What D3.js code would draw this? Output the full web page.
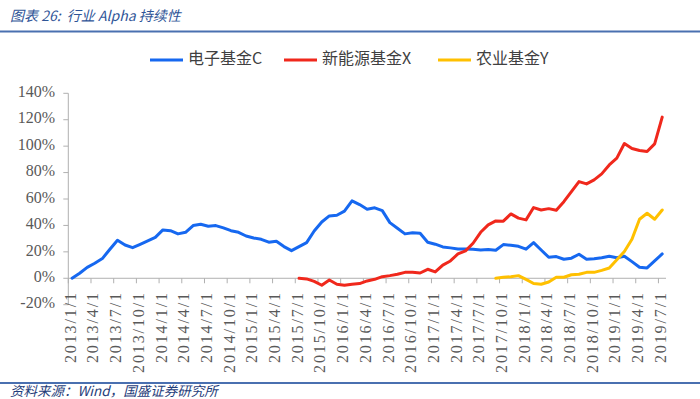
<!DOCTYPE html>
<html>
<head>
<meta charset="utf-8">
<script src="https://cdn.jsdelivr.net/npm/d3@7"></script>
<style>
  html, body { margin: 0; padding: 0; background: #fff; }
  svg { display: block; }
</style>
</head>
<body>
<div id="chart"></div>
<script>
// months 2013/1 .. 2019/7 (monthly points)
const startMonth = new Date(2013, 0, 1);
const endMonth = new Date(2019, 6, 1);

// 电子基金C, from 2013/1
const blueValues = [0, 3.8, 8.3, 11.4, 14.9, 22, 28.8, 25.2, 23.2, 25.7, 28.3, 31,
  36.6, 36, 33.6, 34.8, 39.9, 40.9, 39.4, 39.9, 38.1, 36, 34.8, 32,
  30.5, 29.5, 27.3, 28, 24, 20.9, 24, 27, 35.8, 42.6, 47.2, 47.7,
  50.8, 58.6, 55.8, 52.3, 53.3, 51.2, 42.1, 37.9, 33.6, 34.5, 34.1, 27.3,
  25.8, 23.7, 23, 22.2, 22.2, 22, 21.4, 21.7, 21.2, 25.5, 25, 24.2,
  22, 27, 21.4, 15.9, 16.4, 14.4, 15.2, 18.2, 14.4, 14.8, 15.6, 16.7,
  15.6, 16.7, 12.6, 8.3, 7.8, 13.1, 18.4];

// 新能源基金X, from 2015/7
const redStart = new Date(2015, 6, 1);
const redValues = [0, -0.5, -2.3, -5.3, -1.3, -4.5, -5.3, -4.5, -4, -2, -0.8, 1.2,
  2, 3, 4.5, 4.5, 4, 6.8, 4.8, 10, 13.1, 18.4, 20.7, 26.5,
  34.8, 40.4, 43.4, 43.2, 48.7, 45.5, 44.2, 53.5, 51.7, 52.7, 51.5, 58,
  65.6, 73.2, 71.4, 74.5, 79, 85.8, 90.9, 102, 98.2, 96.7, 95.9, 101.7, 122];

// 农业基金Y, from 2017/9
const yellowStart = new Date(2017, 8, 1);
const yellowValues = [0, 0.8, 1.2, 2, -0.8, -4, -4.5, -2.8, 0.8, 0.8, 2.7, 3,
  4.5, 4.5, 6, 7.8, 14.1, 20.2, 29.5, 44.7, 49.2, 44.7, 51.7];

const yTicks = [-20, 0, 20, 40, 60, 80, 100, 120, 140];

const seriesNames = ["电子基金C", "新能源基金X", "农业基金Y"];
const seriesColors = ["#1668f0", "#f0281c", "#ffc000"];

const W = 700, H = 399;
const svg = d3.select("#chart").append("svg")
  .attr("width", W).attr("height", H);

// header / footer
svg.append("text")
  .attr("x", 10).attr("y", 21)
  .style("font-family", "'Noto Sans CJK SC', sans-serif")
  .style("font-size", "14px")
  .style("font-style", "italic")
  .style("fill", "#2f5597")
  .style("white-space", "pre")
  .text("图表 26:  行业 Alpha 持续性");
svg.append("line")
  .attr("x1", 0).attr("x2", W).attr("y1", 31.5).attr("y2", 31.5)
  .attr("stroke", "#4a70b0").attr("stroke-width", 2);
svg.append("line")
  .attr("x1", 0).attr("x2", W).attr("y1", 383).attr("y2", 383)
  .attr("stroke", "#4a70b0").attr("stroke-width", 2);
svg.append("text")
  .attr("x", 10).attr("y", 396)
  .style("font-family", "'Noto Sans CJK SC', sans-serif")
  .style("font-size", "13.5px")
  .style("font-style", "italic")
  .style("fill", "#1f3d7a")
  .text("资料来源：Wind，国盛证券研究所");

// scales
const months = d3.timeMonth.range(startMonth, d3.timeMonth.offset(endMonth, 1));
const x = d3.scaleBand()
  .domain(months.map(d => +d))
  .range([68.3, 666])
  .padding(0);
const xc = d => x(+d) + x.bandwidth() / 2;

const y = d3.scaleLinear()
  .domain([-20, 140])
  .range([304.7, 93.3]);

const axisColor = "#b0b0b0";
const labelFont = "'Liberation Serif', 'DejaVu Serif', serif";

// y axis
svg.append("line")
  .attr("x1", 68.3).attr("x2", 68.3)
  .attr("y1", y(140)).attr("y2", y(-20))
  .attr("stroke", axisColor);
svg.selectAll(".ytick")
  .data(yTicks)
  .enter().append("line")
  .attr("x1", 63.3).attr("x2", 68.3)
  .attr("y1", d => y(d)).attr("y2", d => y(d))
  .attr("stroke", axisColor);
svg.selectAll(".ylabel")
  .data(yTicks)
  .enter().append("text")
  .attr("x", 55).attr("y", d => y(d))
  .attr("text-anchor", "end")
  .attr("dominant-baseline", "middle")
  .style("font-family", labelFont)
  .style("font-size", "16px")
  .style("fill", "#595959")
  .text(d => d + "%");

// x axis
const tickMonths = months.filter((d, i) => i % 3 === 0);
svg.append("line")
  .attr("x1", 68.3).attr("x2", 666)
  .attr("y1", y(0)).attr("y2", y(0))
  .attr("stroke", axisColor);
svg.selectAll(".xtick")
  .data(tickMonths)
  .enter().append("line")
  .attr("x1", d => x(+d)).attr("x2", d => x(+d))
  .attr("y1", y(0)).attr("y2", y(0) + 5)
  .attr("stroke", axisColor);
svg.selectAll(".xlabel")
  .data(tickMonths)
  .enter().append("text")
  .attr("transform", d => `translate(${xc(d)},291) rotate(-90)`)
  .attr("text-anchor", "end")
  .attr("dominant-baseline", "middle")
  .style("font-family", labelFont)
  .style("font-size", "16px")
  .style("letter-spacing", "1.9px")
  .style("fill", "#595959")
  .text(d => `${d.getFullYear()}/${d.getMonth() + 1}/1`);

// series
const toPoints = (start, vals) => vals.map((v, i) => ({ date: d3.timeMonth.offset(start, i), v }));
const series = [
  toPoints(startMonth, blueValues),
  toPoints(redStart, redValues),
  toPoints(yellowStart, yellowValues)
];

const line = d3.line()
  .x(d => xc(d.date))
  .y(d => y(d.v));

series.forEach((pts, i) => {
  svg.append("path")
    .datum(pts)
    .attr("fill", "none")
    .attr("stroke", seriesColors[i])
    .attr("stroke-width", 3)
    .attr("stroke-linejoin", "round")
    .attr("stroke-linecap", "round")
    .attr("d", line);
});

// legend
const legendX = [150, 284, 438];
const lg = svg.selectAll(".legend")
  .data(seriesNames)
  .enter().append("g")
  .attr("transform", (d, i) => `translate(${legendX[i]},60)`);
lg.append("line")
  .attr("x1", 0).attr("x2", 33)
  .attr("stroke", (d, i) => seriesColors[i])
  .attr("stroke-width", 3);
lg.append("text")
  .attr("x", 38)
  .attr("dominant-baseline", "middle")
  .style("font-family", "'Noto Sans CJK SC', sans-serif")
  .style("font-size", "16px")
  .style("fill", "#404040")
  .text(d => d);
</script>
</body>
</html>
